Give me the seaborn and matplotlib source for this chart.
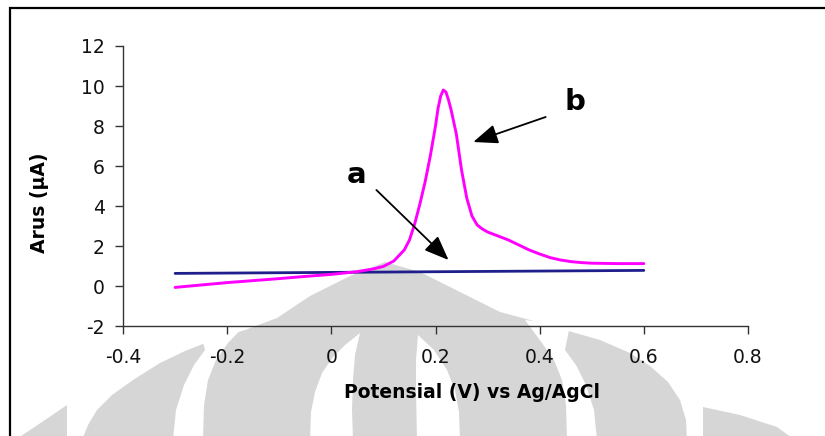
import matplotlib
matplotlib.use("Agg")
import matplotlib.pyplot as plt
import numpy as np
import pandas as pd
import seaborn as sns
from matplotlib.patches import Polygon, Rectangle

# Curve a: blank electrode (flat baseline)
potential_a = [-0.30, 0.00, 0.30, 0.60]
current_a = [0.63, 0.68, 0.73, 0.78]

# Curve b: oxidation peak near 0.215 V
potential_b = [-0.30, -0.25, -0.20, -0.15, -0.10, -0.05, 0.00, 0.05, 0.08, 0.10,
               0.12, 0.14, 0.15, 0.16, 0.17, 0.18, 0.19, 0.20, 0.205, 0.21,
               0.215, 0.22, 0.225, 0.23, 0.24, 0.25, 0.26, 0.27, 0.28, 0.29,
               0.30, 0.32, 0.34, 0.36, 0.38, 0.40, 0.42, 0.44, 0.46, 0.48,
               0.50, 0.55, 0.60]
current_b = [-0.07, 0.05, 0.17, 0.27, 0.37, 0.48, 0.58, 0.72, 0.85, 0.98,
             1.25, 1.80, 2.30, 3.10, 4.10, 5.20, 6.50, 8.00, 8.90, 9.50,
             9.80, 9.70, 9.30, 8.80, 7.60, 5.80, 4.40, 3.50, 3.05, 2.85,
             2.70, 2.50, 2.30, 2.05, 1.80, 1.60, 1.42, 1.30, 1.22, 1.17,
             1.14, 1.12, 1.12]

x_ticks = [-0.4, -0.2, 0.0, 0.2, 0.4, 0.6, 0.8]
x_tick_labels = ["-0.4", "-0.2", "0", "0.2", "0.4", "0.6", "0.8"]
y_ticks = [-2, 0, 2, 4, 6, 8, 10, 12]
y_tick_labels = ["-2", "0", "2", "4", "6", "8", "10", "12"]

df_a = pd.DataFrame({"potential": potential_a, "current": current_a})
df_b = pd.DataFrame({"potential": potential_b, "current": current_b})

sns.set_theme(style="ticks")
plt.rcParams["font.family"] = ["DejaVu Sans"]
plt.rcParams["text.color"] = "black"
plt.rcParams["axes.labelcolor"] = "black"

W, H = 825, 436
fig = plt.figure(figsize=(W / 100, H / 100), dpi=100)
fig.patch.set_facecolor("white")


def px(points):
    """Convert pixel coordinates (origin top-left) to figure fractions."""
    return [(x / W, 1 - y / H) for x, y in points]


# Faint background emblem
wm_gray = "#d6d6d6"
dome = [(385, 262), (350, 276), (310, 296), (277, 318), (245, 330), (213, 340),
        (185, 351), (160, 363), (133, 380), (112, 395), (97, 410), (88, 425),
        (82, 440), (687, 440), (686, 420), (680, 400), (668, 382), (650, 366),
        (630, 353), (600, 340), (565, 330), (530, 320), (500, 312), (460, 292),
        (420, 272)]
left_piece = [(15, 440), (45, 420), (67, 405), (67, 440)]
right_piece = [(703, 407), (740, 415), (777, 427), (795, 440), (703, 440)]
for shape in (dome, left_piece, right_piece):
    fig.add_artist(Polygon(px(shape), closed=True, transform=fig.transFigure,
                           facecolor=wm_gray, edgecolor="none", zorder=-2))

cuts = [
    [(200, 330), (245, 325), (228, 343), (216, 360), (208, 380), (204, 405),
     (203, 440), (173, 440), (176, 410), (184, 385), (194, 365), (205, 350)],
    [(570, 325), (525, 320), (542, 343), (554, 360), (562, 380), (566, 405),
     (567, 440), (597, 440), (594, 410), (586, 385), (576, 365), (565, 350)],
    [(360, 333), (345, 345), (333, 357), (322, 373), (315, 392), (311, 412),
     (310, 440), (353, 440), (352, 410), (353, 380), (355, 355)],
    [(418, 335), (416, 360), (416, 390), (417, 440), (460, 440), (459, 412),
     (455, 390), (447, 370), (434, 350)],
]
for shape in cuts:
    fig.add_artist(Polygon(px(shape), closed=True, transform=fig.transFigure,
                           facecolor="white", edgecolor="none", zorder=-1))

# Outer frame
fig.add_artist(Rectangle((10 / W, -0.2), 1.2, 1.2 - 8 / H, transform=fig.transFigure,
                         fill=False, edgecolor="black", linewidth=1.6, zorder=5))

ax = fig.add_axes([123 / W, (H - 326) / H, 625 / W, 280 / H])
ax.set_facecolor("none")

sns.lineplot(data=df_a, x="potential", y="current", ax=ax, color="#1f1f8c",
             linewidth=2, estimator=None, sort=False)
sns.lineplot(data=df_b, x="potential", y="current", ax=ax, color="#ff00ff",
             linewidth=2.1, estimator=None, sort=False)

ax.set_xlim(-0.4, 0.8)
ax.set_ylim(-2, 12)
ax.set_xticks(x_ticks)
ax.set_xticklabels(x_tick_labels)
ax.set_yticks(y_ticks)
ax.set_yticklabels(y_tick_labels)
sns.despine(ax=ax)
for side in ("left", "bottom"):
    ax.spines[side].set_color("#333333")
    ax.spines[side].set_linewidth(1.0)
ax.tick_params(axis="both", direction="out", length=6, width=1.0,
               color="#333333", labelsize=13.5, labelcolor="#111111")
ax.tick_params(axis="x", pad=10)
ax.tick_params(axis="y", pad=7)

ax.set_xlabel("Potensial (V) vs Ag/AgCl", fontsize=13.5, fontweight="bold")
ax.set_ylabel("Arus (µA)", fontsize=13.5, fontweight="bold")
ax.xaxis.label.set_va("center")
ax.yaxis.label.set_va("center")
ax.xaxis.set_label_coords((472 - 123) / 625, (326 - 392) / 280)
ax.yaxis.set_label_coords((40 - 123) / 625, (326 - 203) / 280)

# Curve labels with pointers
ax.text(0.048, 5.17, "a", fontsize=21, fontweight="bold", color="black",
        ha="center", va="baseline")
ax.text(0.467, 8.8, "b", fontsize=21, fontweight="bold", color="black",
        ha="center", va="baseline")
arrow_style = dict(arrowstyle="-|>,head_length=0.75,head_width=0.3",
                   color="black", lw=1.3, mutation_scale=20, shrinkA=0, shrinkB=0)
ax.annotate("", xy=(0.225, 1.3), xytext=(0.0865, 4.8), arrowprops=arrow_style)
ax.annotate("", xy=(0.2725, 7.2), xytext=(0.4115, 8.45), arrowprops=arrow_style)

fig.savefig("out.png", dpi=100, facecolor="white")
